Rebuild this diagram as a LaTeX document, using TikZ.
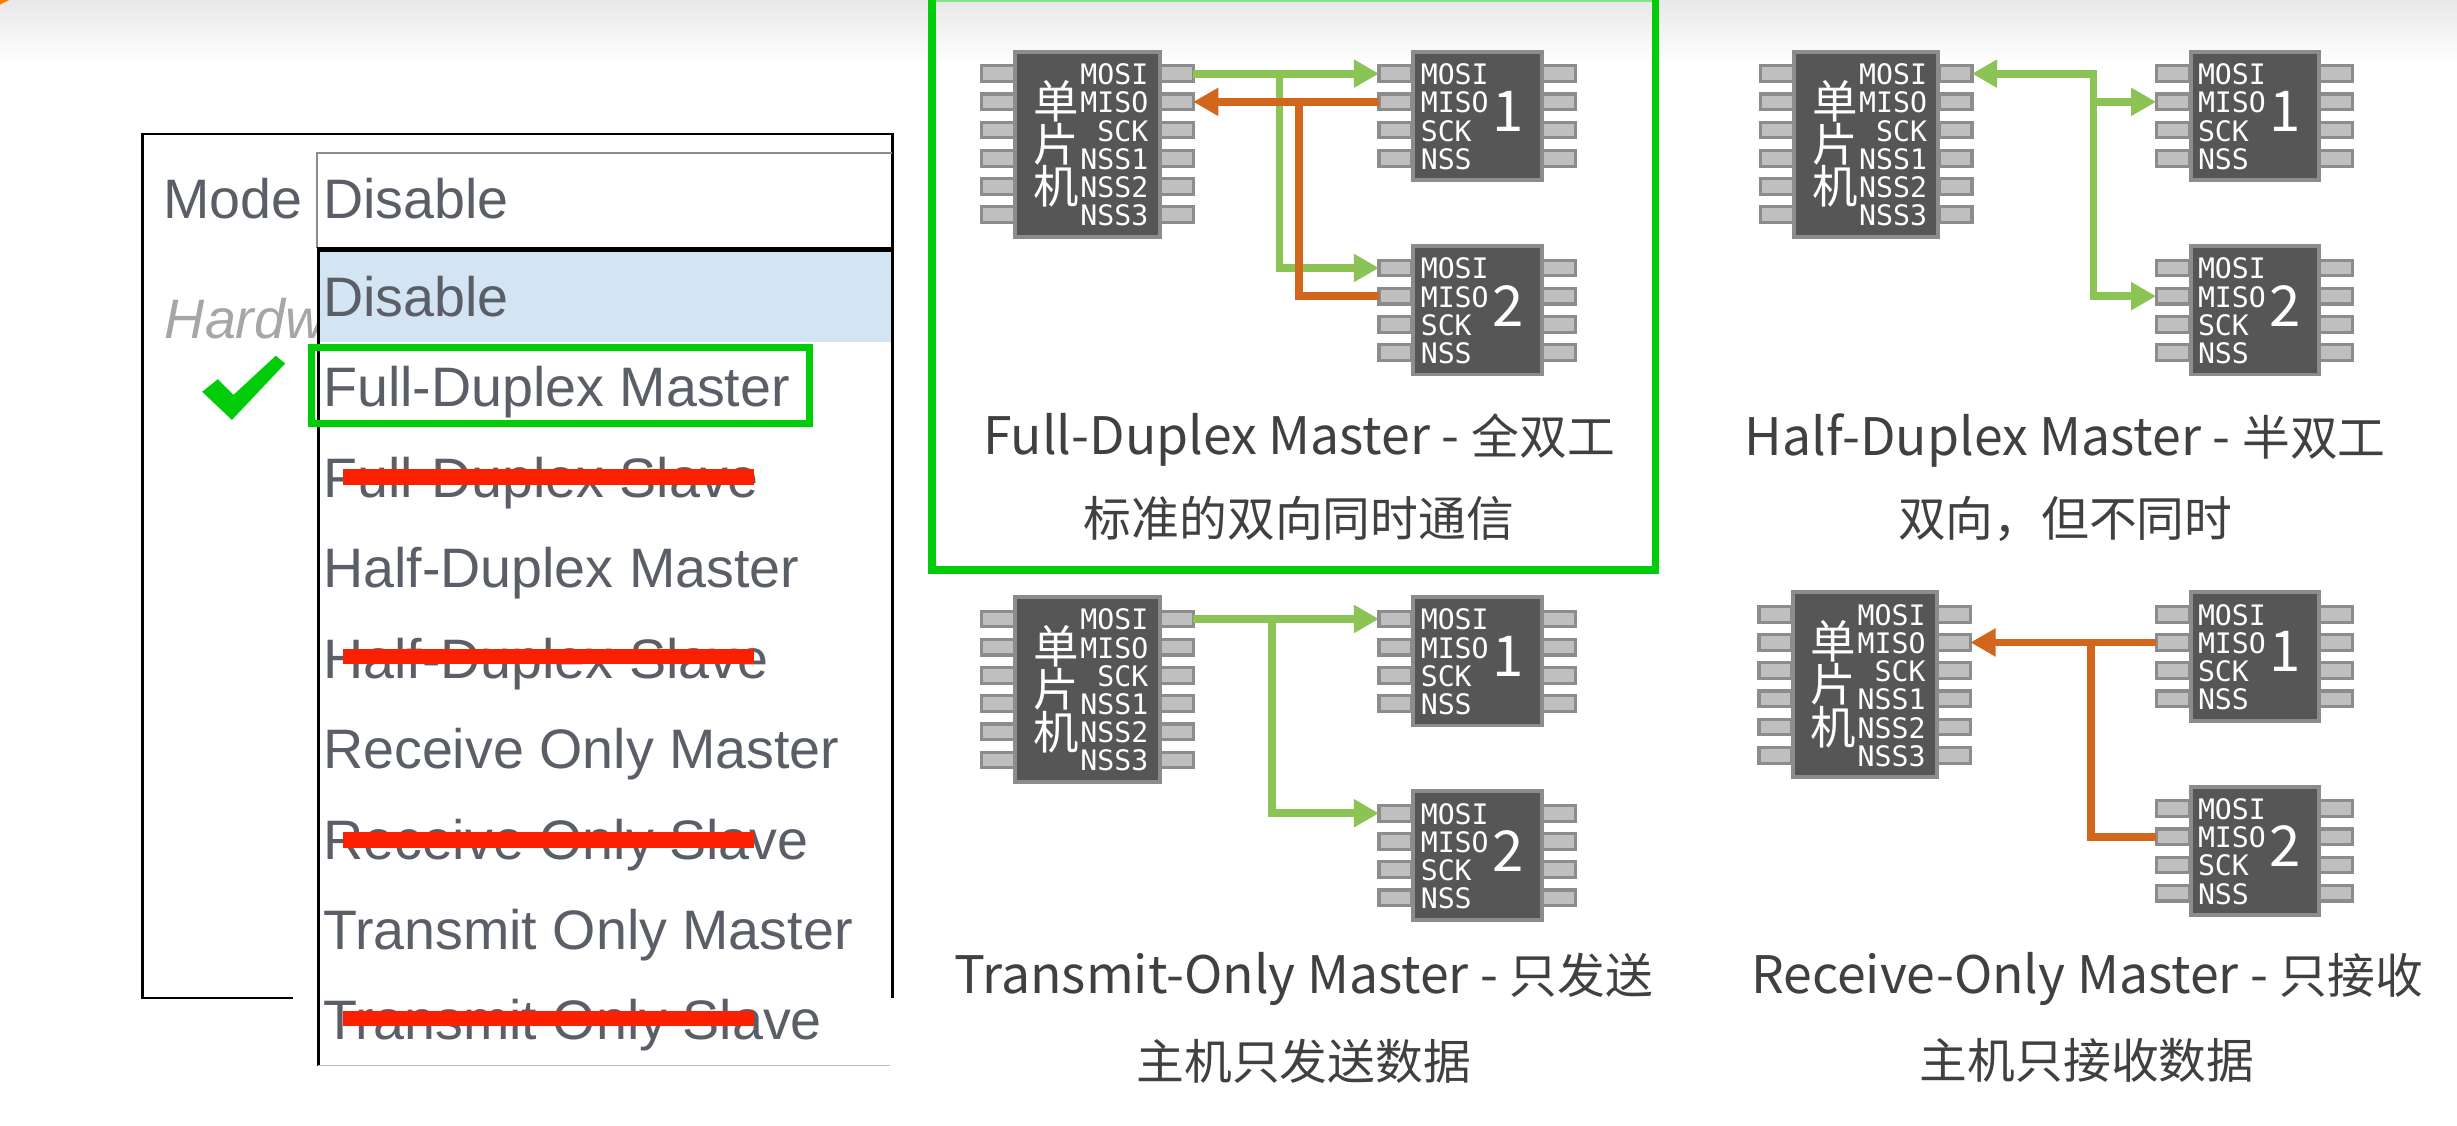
\documentclass[tikz,border=0pt]{standalone}
\usepackage{fontspec}
\setmainfont{Noto Sans CJK SC}
\newfontfamily\listfont{Liberation Sans}
\newfontfamily\pinfont{DejaVu Sans Mono}
\usetikzlibrary{arrows.meta,calc}
\definecolor{wiregreen}{HTML}{8BC354}
\definecolor{wireorange}{HTML}{D2661C}
\definecolor{markgreen}{HTML}{00CC0A}
\definecolor{strikered}{HTML}{FA2000}
\definecolor{chipgray}{HTML}{565656}
\definecolor{edgegray}{HTML}{8C8C8C}
\definecolor{listgray}{HTML}{5A5E66}
\definecolor{rowblue}{HTML}{D3E4F2}
\newcommand{\capword}[1]{{\fontsize{33}{36}\selectfont #1}}

\begin{document}
\begin{tikzpicture}[
  x=1pt,y=-1pt,
  >={Triangle[length=16pt,width=17pt]},
  mosiwire/.style={line width=5pt,wiregreen},
  misowire/.style={line width=5pt,wireorange},
  chipbody/.style={fill=chipgray,draw=edgegray,line width=2.5pt},
  pinbox/.style={rectangle,fill=black!25,draw=edgegray,line width=2pt,inner sep=0pt,outer sep=0pt,minimum width=21pt,minimum height=10pt},
  pinlabel/.style={text=white,inner sep=0pt,font=\fontsize{18}{20}\pinfont},
  chiplabel/.style={text=white,inner sep=0pt,font=\fontsize{29}{30}\selectfont},
  listitem/.style={anchor=base west,inner sep=0pt,text=listgray,font=\fontsize{35.5}{40}\listfont},
  caption/.style={text=black!75,inner sep=0pt,font=\fontsize{30.5}{36}\selectfont},
  strike/.style={line width=10pt,strikered},
  pics/masterchip/.style={code={
    \foreach \pinname/\pintext/\piny in {mosi/MOSI/14,miso/MISO/32,sck/SCK/50,nssa/NSS1/68,nssb/NSS2/86,nssc/NSS3/104} {
      \node[pinbox] (-\pinname-l) at (-11,\piny) {};
      \node[pinbox] (-\pinname) at (103,\piny) {};
    }
    \draw[chipbody] (0,0) rectangle (92,118);
    \foreach \pinname/\pintext/\piny in {mosi/MOSI/14,miso/MISO/32,sck/SCK/50,nssa/NSS1/68,nssb/NSS2/86,nssc/NSS3/104}
      \node[pinlabel,anchor=base east] (-\pinname-t) at (85,\piny+7) {\pintext};
    \node[chiplabel] (-dan) at (26,31.5) {单};
    \node[chiplabel] (-pian) at (26,59) {片};
    \node[chiplabel] (-ji) at (26,86) {机};
  }},
  pics/slavechip/.style={code={
    \foreach \pinname/\pintext/\piny in {mosi/MOSI/14,miso/MISO/32,sck/SCK/50,nss/NSS/68} {
      \node[pinbox] (-\pinname) at (-11.5,\piny) {};
      \node[pinbox] (-\pinname-r) at (93,\piny) {};
    }
    \draw[chipbody] (0,0) rectangle (82,82);
    \foreach \pinname/\pintext/\piny in {mosi/MOSI/14,miso/MISO/32,sck/SCK/50,nss/NSS/68}
      \node[pinlabel,anchor=base west] (-\pinname-t) at (4.5,\piny+7) {\pintext};
    \node[chiplabel,font=\fontsize{36}{38}\selectfont] (-num) at (60.5,38) {#1};
  }}
]
  \useasboundingbox (0,0) rectangle (1568,718);

  % window strip
  \shade[top color=black!9,bottom color=white] (0,0) rectangle (1568,41);
  \fill[orange] (0,0) -- (6,0) -- (0,3) -- cycle;

  % mode list
  \draw[line width=1.6pt] (187,637) -- (91,637) -- (91,85.5) -- (569.5,85.5) -- (569.5,637);
  \node[listitem] (mode) at (104,139.5) {Mode};
  \node[listitem,text=black!35,font=\fontsize{35.5}{40}\listfont\itshape] (hardw) at (105,216) {Hardw};
  \fill[white] (203,97) rectangle (568.7,680);
  \draw[black!45,line width=1.5pt] (569,97.5) -- (202.5,97.5) -- (202.5,158);
  \fill[rowblue] (204,160) rectangle (568.7,218);
  \draw[line width=3pt] (202,159) -- (569,159);
  \draw[line width=2pt] (203,159) -- (203,680);
  \draw[black!25,line width=1.2pt] (203,680) -- (568,680);
  \draw[line width=1.6pt] (569.5,159) -- (569.5,637);
  \node[listitem] (current) at (206,139.5) {Disable};
  \foreach \i/\itemtext in {0/Disable,1/Full-Duplex Master,2/Full-Duplex Slave,3/Half-Duplex Master,4/Half-Duplex Slave,5/Receive Only Master,6/Receive Only Slave,7/Transmit Only Master,8/Transmit Only Slave}
    \node[listitem] (item\i) at (206,{202+\i*57.7}) {\itemtext};
  \foreach \y in {304.5,419,536,650}
    \draw[strike] (219,\y) -- (481,\y);
  \draw[markgreen,line width=4.5pt] (199,222) rectangle (516.5,270);
  \fill[markgreen] (129,250) -- (139,242) -- (149,252) -- (176,227) -- (182,232) -- (148,268) -- cycle;

  % full duplex
  \draw[markgreen!50,line width=1pt] (595,0.5) -- (1056.5,0.5);
  \draw[markgreen,line width=5pt] (595,0) -- (595,363.5) -- (1056.5,363.5) -- (1056.5,0);
  \pic (fd) at (648,33) {masterchip};
  \pic (fdone) at (902,33) {slavechip=1};
  \pic (fdtwo) at (902,157) {slavechip=2};
  \coordinate (fdsplit) at (816.5,47);
  \coordinate (fdjoin) at (829,65);
  \draw[mosiwire,->] (fd-mosi.east) -- (fdone-mosi.west);
  \draw[mosiwire,->] (fdsplit) |- (fdtwo-mosi.west);
  \draw[misowire,->] (fdone-miso.west) -- (fd-miso.east);
  \draw[misowire] (fdjoin) |- (fdtwo-miso.west);
  \node[caption] (fdtitle) at (829,281) {\capword{Full-Duplex Master - }全双工};
  \node[caption] (fdnote) at (829,331) {标准的双向同时通信};

  % half duplex
  \pic (hd) at (1145,33) {masterchip};
  \pic (hdone) at (1398,33) {slavechip=1};
  \pic (hdtwo) at (1398,157) {slavechip=2};
  \coordinate (hdsplit) at (1336,47);
  \draw[mosiwire,<->] (hd-mosi.east) -- (hdsplit) |- (hdtwo-miso.west);
  \draw[mosiwire,->] (hdsplit |- hdone-miso.west) -- (hdone-miso.west);
  \node[caption] (hdtitle) at (1318,281) {\capword{Half-Duplex Master - }半双工};
  \node[caption] (hdnote) at (1318,331) {双向，但不同时};

  % transmit only
  \pic (tx) at (648,381) {masterchip};
  \pic (txone) at (902,381) {slavechip=1};
  \pic (txtwo) at (902,505) {slavechip=2};
  \coordinate (txsplit) at (812,395);
  \draw[mosiwire,->] (tx-mosi.east) -- (txone-mosi.west);
  \draw[mosiwire,->] (txsplit) |- (txtwo-mosi.west);
  \node[caption] (txtitle) at (832,625) {\capword{Transmit-Only Master - }只发送};
  \node[caption] (txnote) at (832,677) {主机只发送数据};

  % receive only
  \pic (rx) at (1144,378) {masterchip};
  \pic (rxone) at (1398,378) {slavechip=1};
  \pic (rxtwo) at (1398,502) {slavechip=2};
  \coordinate (rxjoin) at (1334.5,410);
  \draw[misowire,->] (rxone-miso.west) -- (rx-miso.east);
  \draw[misowire] (rxjoin) |- (rxtwo-miso.west);
  \node[caption] (rxtitle) at (1332,625) {\capword{Receive-Only Master - }只接收};
  \node[caption] (rxnote) at (1332,677) {主机只接收数据};
\end{tikzpicture}
\end{document}
